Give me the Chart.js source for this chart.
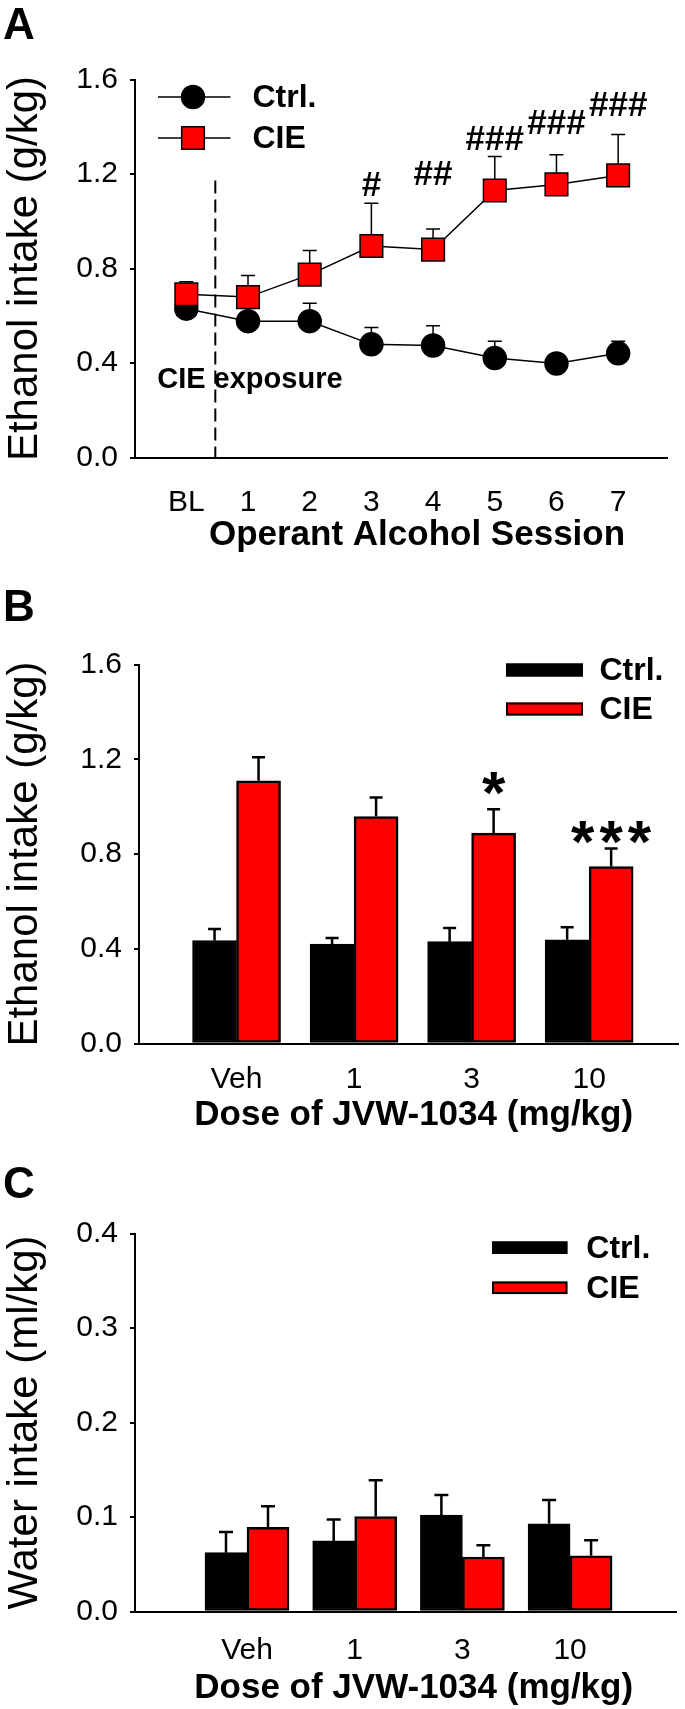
<!DOCTYPE html>
<html>
<head>
<meta charset="utf-8">
<script src="https://cdn.jsdelivr.net/npm/chart.js@4.4.1/dist/chart.umd.min.js"></script>
<style>
  html, body { margin: 0; padding: 0; background: #fff; }
  #wrap { position: relative; width: 685px; height: 1709px; }
  .panel { position: absolute; left: 0; width: 685px; }
</style>
</head>
<body>
<div id="wrap">
  <div class="panel" style="top:0;height:565px"><canvas id="chartA"></canvas></div>
  <div class="panel" style="top:565px;height:570px"><canvas id="chartB"></canvas></div>
  <div class="panel" style="top:1135px;height:574px"><canvas id="chartC"></canvas></div>
</div>
<script>
// ---- Panel A: ethanol intake over operant sessions ----
const sessionLabels = ['BL', '1', '2', '3', '4', '5', '6', '7'];
const ctrlIntakeA = [0.630, 0.577, 0.577, 0.479, 0.474, 0.421, 0.398, 0.441];
const ctrlErrA    = [0.020, 0.020, 0.076, 0.071, 0.084, 0.071, 0.015, 0.051];
const cieIntakeA  = [0.691, 0.679, 0.774, 0.895, 0.880, 1.130, 1.156, 1.194];
const cieErrA     = [0.053, 0.091, 0.102, 0.181, 0.087, 0.144, 0.126, 0.173];
const sigMarksA   = ['', '', '', '#', '##', '###', '###', '###'];
const sigLevelA   = [null, null, null, 1.156, 1.202, 1.353, 1.421, 1.497];
const exposureAt  = 0.47;   // session position of the dashed line
const exposureTop = 1.172;

// ---- Panel B: ethanol intake by JVW-1034 dose ----
const doseLabels  = ['Veh', '1', '3', '10'];
const ctrlIntakeB = [0.435, 0.420, 0.430, 0.438];
const ctrlErrB    = [0.048, 0.025, 0.058, 0.053];
const cieIntakeB  = [1.109, 0.958, 0.888, 0.747];
const cieErrB     = [0.099, 0.080, 0.101, 0.076];
const sigMarksB   = ['', '', '*', '***'];
const sigLevelB   = [null, null, 1.114, 0.909];

// ---- Panel C: water intake by JVW-1034 dose ----
const ctrlWaterC = [0.0623, 0.0747, 0.1019, 0.0928];
const ctrlErrC   = [0.0219, 0.0227, 0.0215, 0.0253];
const cieWaterC  = [0.0891, 0.1004, 0.0577, 0.0589];
const cieErrC    = [0.0222, 0.0385, 0.0125, 0.0166];

const FONT = '"Liberation Sans", Arial, Helvetica, sans-serif';
Chart.defaults.font.family = FONT;
Chart.defaults.color = '#000';

const toPoints = arr => arr.map((v, i) => ({ x: i, y: v }));

// upward-only error bars, drawn under the marks
const errorBarPlugin = {
  id: 'errorBars',
  beforeDatasetsDraw(chart, args, opts) {
    const ctx = chart.ctx;
    const ys = chart.scales.y;
    ctx.save();
    ctx.strokeStyle = '#000';
    ctx.lineWidth = opts.width || 2;
    chart.data.datasets.forEach((ds, di) => {
      if (!ds.errors) return;
      const meta = chart.getDatasetMeta(di);
      meta.data.forEach((el, i) => {
        const v = ds.data[i].y;
        const top = ys.getPixelForValue(v + ds.errors[i]);
        ctx.beginPath();
        ctx.moveTo(el.x, el.y);
        ctx.lineTo(el.x, top);
        ctx.moveTo(el.x - opts.cap / 2, top);
        ctx.lineTo(el.x + opts.cap / 2, top);
        ctx.stroke();
      });
    });
    ctx.restore();
  }
};

// panel letter, x title, legend, significance marks, notes
const decorPlugin = {
  id: 'decor',
  beforeDatasetsDraw(chart, args, o) {
    if (o.dashAt === undefined) return;
    const ctx = chart.ctx, xs = chart.scales.x, ys = chart.scales.y;
    const x = xs.getPixelForValue(o.dashAt);
    ctx.save();
    ctx.strokeStyle = '#000';
    ctx.lineWidth = 2;
    ctx.setLineDash([13, 6]);
    ctx.beginPath();
    ctx.moveTo(x, ys.getPixelForValue(o.dashTop));
    ctx.lineTo(x, ys.getPixelForValue(0));
    ctx.stroke();
    ctx.restore();
  },
  afterDraw(chart, args, o) {
    const ctx = chart.ctx, xs = chart.scales.x, ys = chart.scales.y;
    ctx.save();
    ctx.fillStyle = '#000';
    ctx.textBaseline = 'middle';

    ctx.textAlign = 'left';
    ctx.font = 'bold 44px ' + FONT;
    ctx.fillText(o.letter, 3, o.letterY);

    ctx.textAlign = 'center';
    ctx.font = 'bold 35px ' + FONT;
    ctx.fillText(o.xTitle, o.xTitleX, o.xTitleY);

    // legend
    const lg = o.legend;
    chart.data.datasets.forEach((ds, di) => {
      const y = lg.rows[di];
      if (lg.kind === 'line') {
        ctx.strokeStyle = '#000';
        ctx.lineWidth = 1.5;
        ctx.beginPath();
        ctx.moveTo(lg.x0, y);
        ctx.lineTo(lg.x1, y);
        ctx.stroke();
        ctx.fillStyle = ds.pointBackgroundColor;
        ctx.beginPath();
        if (ds.pointStyle === 'rect') {
          const h = ds.pointRadius * Math.SQRT1_2;
          ctx.rect(lg.mx - h, y - h, 2 * h, 2 * h);
        } else {
          ctx.arc(lg.mx, y, ds.pointRadius, 0, Math.PI * 2);
        }
        ctx.fill();
        ctx.lineWidth = ds.pointBorderWidth || 1.5;
        ctx.stroke();
      } else {
        ctx.fillStyle = ds.backgroundColor;
        ctx.fillRect(lg.x0, y - lg.h / 2, lg.x1 - lg.x0, lg.h);
        ctx.strokeStyle = '#000';
        ctx.lineWidth = 2;
        ctx.strokeRect(lg.x0 + 1, y - lg.h / 2 + 1, lg.x1 - lg.x0 - 2, lg.h - 2);
      }
      ctx.fillStyle = '#000';
      ctx.textAlign = 'left';
      ctx.font = 'bold 32px ' + FONT;
      ctx.fillText(ds.label, lg.textX, y + 1);
    });

    // significance marks
    if (o.marks) {
      const meta = chart.getDatasetMeta(o.marks.dataset);
      ctx.textAlign = 'left';
      ctx.textBaseline = 'alphabetic';
      ctx.font = 'bold ' + o.marks.size + 'px ' + FONT;
      ctx.letterSpacing = (o.marks.spacing || 0) + 'px';
      o.marks.text.forEach((t, i) => {
        if (!t) return;
        const cx = meta.data[i].x;
        const cy = ys.getPixelForValue(o.marks.level[i]);
        const w = ctx.measureText(t).width - (o.marks.spacing || 0);
        ctx.fillText(t, cx - w / 2, cy + o.marks.size * o.marks.inkMid);
      });
      ctx.letterSpacing = '0px';
    }

    // free note
    if (o.note) {
      ctx.textBaseline = 'middle';
      ctx.textAlign = 'left';
      ctx.font = 'bold 29px ' + FONT;
      ctx.fillText(o.note.text, xs.getPixelForValue(o.note.x), ys.getPixelForValue(o.note.y));
    }
    ctx.restore();
  }
};

function axisX(labels, min, max, pad, fitHeight) {
  return {
    type: 'linear', min: min, max: max, bounds: 'data', offset: false,
    afterBuildTicks: s => { s.ticks = labels.map((_, i) => ({ value: i })); },
    afterFit: s => { s.height = fitHeight; },
    ticks: { callback: v => labels[v], font: { size: 30 }, padding: pad, maxRotation: 0, autoSkip: false },
    grid: { display: false, offset: false },
    border: { color: '#000', width: 2 }
  };
}

function axisY(max, step, digits, title, fitWidth) {
  return {
    min: 0, max: max,
    afterFit: s => { s.width = fitWidth; },
    ticks: { stepSize: step, callback: v => v.toFixed(digits), font: { size: 30 }, padding: 12 },
    grid: { drawOnChartArea: false, drawTicks: true, tickLength: 5, color: '#000', lineWidth: 2 },
    border: { color: '#000', width: 2 },
    title: { display: true, text: title, font: { size: 42 }, padding: 0 }
  };
}

// ---- Chart A ----
new Chart(document.getElementById('chartA'), {
  type: 'line',
  data: {
    datasets: [
      {
        label: 'Ctrl.', data: toPoints(ctrlIntakeA), errors: ctrlErrA, order: 2,
        borderColor: '#000', borderWidth: 1.5, pointStyle: 'circle', pointRadius: 11.5,
        pointBackgroundColor: '#000', pointBorderColor: '#000', pointBorderWidth: 1.5
      },
      {
        label: 'CIE', data: toPoints(cieIntakeA), errors: cieErrA, order: 1,
        borderColor: '#000', borderWidth: 1.5, pointStyle: 'rect', pointRadius: 16,
        pointBackgroundColor: '#ff0000', pointBorderColor: '#000', pointBorderWidth: 1.5
      }
    ]
  },
  options: {
    responsive: true, maintainAspectRatio: false, animation: false,
    layout: { padding: { top: 79.5, left: 0, right: 9, bottom: 0 } },
    plugins: {
      legend: { display: false }, tooltip: { enabled: false },
      errorBars: { cap: 14, width: 1.5 },
      decor: {
        letter: 'A', letterY: 27,
        xTitle: 'Operant Alcohol Session', xTitleX: 417, xTitleY: 535,
        legend: { kind: 'line', x0: 158, x1: 230.5, mx: 193, textX: 252.5, rows: [97, 138] },
        marks: { dataset: 1, text: sigMarksA, level: sigLevelA, size: 35, inkMid: 0.34 },
        note: { text: 'CIE exposure', x: -0.472, y: 0.326 },
        dashAt: exposureAt, dashTop: exposureTop
      }
    },
    scales: {
      x: axisX(sessionLabels, -0.832, 7.8, 19, 565 - 457.5),
      y: axisY(1.6, 0.4, 1, 'Ethanol intake (g/kg)', 135)
    }
  },
  plugins: [errorBarPlugin, decorPlugin]
});

function barSets(ctrl, ctrlErr, cie, cieErr, thick) {
  return [
    {
      label: 'Ctrl.', data: toPoints(ctrl), errors: ctrlErr,
      backgroundColor: '#000', borderColor: '#000', borderWidth: 2, borderSkipped: false, barThickness: thick
    },
    {
      label: 'CIE', data: toPoints(cie), errors: cieErr,
      backgroundColor: '#ff0000', borderColor: '#000', borderWidth: 2.5, borderSkipped: false, barThickness: thick
    }
  ];
}

// ---- Chart B ----
new Chart(document.getElementById('chartB'), {
  type: 'bar',
  data: { datasets: barSets(ctrlIntakeB, ctrlErrB, cieIntakeB, cieErrB, 44) },
  options: {
    responsive: true, maintainAspectRatio: false, animation: false,
    layout: { padding: { top: 99.5, left: 0, right: 7, bottom: 0 } },
    plugins: {
      legend: { display: false }, tooltip: { enabled: false },
      errorBars: { cap: 13, width: 2.5 },
      decor: {
        letter: 'B', letterY: 44,
        xTitle: 'Dose of JVW-1034 (mg/kg)', xTitleX: 413.7, xTitleY: 550,
        legend: { kind: 'box', x0: 506, x1: 583, h: 13, textX: 599.5, rows: [105, 144] },
        marks: { dataset: 1, text: sigMarksB, level: sigLevelB, size: 60, inkMid: 0.56, spacing: 5 }
      }
    },
    scales: {
      x: axisX(doseLabels, -0.83, 3.756, 10, 570 - 478.5),
      y: axisY(1.6, 0.4, 1, 'Ethanol intake (g/kg)', 139)
    }
  },
  plugins: [errorBarPlugin, decorPlugin]
});

// ---- Chart C ----
new Chart(document.getElementById('chartC'), {
  type: 'bar',
  data: { datasets: barSets(ctrlWaterC, ctrlErrC, cieWaterC, cieErrC, 42) },
  options: {
    responsive: true, maintainAspectRatio: false, animation: false,
    layout: { padding: { top: 98.5, left: 0, right: 8.3, bottom: 0 } },
    plugins: {
      legend: { display: false }, tooltip: { enabled: false },
      errorBars: { cap: 14, width: 2.5 },
      decor: {
        letter: 'C', letterY: 51,
        xTitle: 'Dose of JVW-1034 (mg/kg)', xTitleX: 413.7, xTitleY: 553,
        legend: { kind: 'box', x0: 492, x1: 567.4, h: 12.5, textX: 586.3, rows: [112.7, 152.8] }
      }
    },
    scales: {
      x: axisX(doseLabels, -1.04, 3.99, 13, 574 - 476.5),
      y: axisY(0.4, 0.1, 1, 'Water intake (ml/kg)', 135)
    }
  },
  plugins: [errorBarPlugin, decorPlugin]
});
</script>
</body>
</html>
